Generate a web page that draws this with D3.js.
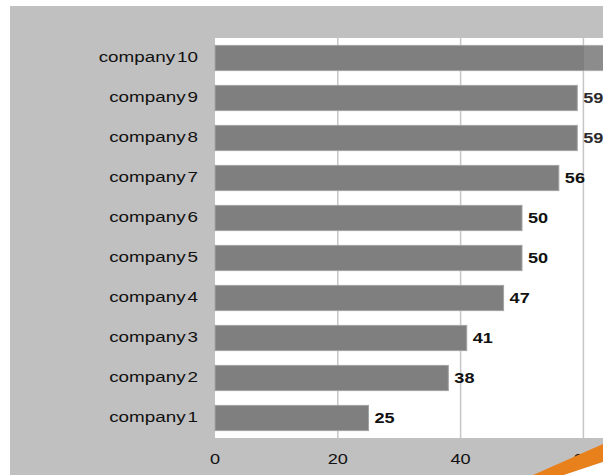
<!DOCTYPE html>
<html>
<head>
<meta charset="utf-8">
<script src="https://cdn.jsdelivr.net/npm/d3@7"></script>
<style>
html,body{margin:0;padding:0;background:#fff;overflow:hidden}
svg{display:block}
text{font-family:"Liberation Sans",Arial,sans-serif;fill:#111}
</style>
</head>
<body>
<svg id="chart" width="603" height="475"></svg>
<script>
const categories = ["company 1","company 2","company 3","company 4","company 5","company 6","company 7","company 8","company 9","company 10"];
const values = [25, 38, 41, 47, 50, 50, 56, 59, 59, 66];
const xTicks = [0, 20, 40, 60, 80];

const W = 603, H = 475;
const svg = d3.select("#chart");
const plot = {left: 215, top: 38, right: 585, bottom: 438};
const sx = 1.25;

// background panel
svg.append("rect").attr("x", 10).attr("y", 6).attr("width", W - 10).attr("height", H - 6).attr("fill", "#c0c0c0");
svg.append("rect").attr("x", plot.left).attr("y", plot.top).attr("width", W - plot.left).attr("height", plot.bottom - plot.top).attr("fill", "#ffffff");

const x = d3.scaleLinear().domain([0, 80]).range([plot.left, plot.left + 80 * 6.14]);
const y = d3.scaleBand().domain(categories.slice().reverse()).range([plot.top, plot.bottom]).paddingInner(0.37).paddingOuter(0.185);

// gridlines
svg.append("g").selectAll("line").data(xTicks.filter(d => d > 0)).join("line")
  .attr("x1", d => x(d)).attr("x2", d => x(d))
  .attr("y1", plot.top).attr("y2", plot.bottom)
  .attr("stroke", "#c6c6c6").attr("stroke-width", 1.5);

// bars
svg.append("g").selectAll("rect").data(categories).join("rect")
  .attr("x", x(0))
  .attr("y", d => y(d))
  .attr("width", (d, i) => x(values[i]) - x(0))
  .attr("height", y.bandwidth())
  .attr("fill", "#7f7f7f")
  .attr("stroke", "#a3a3a3").attr("stroke-width", 1);

// value labels
svg.append("g").selectAll("text").data(categories).join("text")
  .attr("transform", (d, i) => `translate(${x(values[i]) + 6},${y(d) + y.bandwidth() / 2}) scale(${sx},1)`)
  .attr("dy", "0.36em")
  .style("font-size", "14.5px").style("font-weight", "bold")
  .text((d, i) => values[i]);

// category labels
svg.append("g").selectAll("text").data(categories).join("text")
  .attr("transform", d => `translate(198,${y(d) + y.bandwidth() / 2 - 1.5}) scale(1.3,1)`)
  .attr("dy", "0.36em").attr("text-anchor", "end")
  .style("font-size", "14.5px").style("word-spacing", "-2.5px")
  .text(d => d);

// x tick labels
svg.append("g").selectAll("text").data(xTicks).join("text")
  .attr("transform", d => `translate(${x(d)},${459}) scale(${sx},1)`)
  .attr("dy", "0.36em").attr("text-anchor", "middle")
  .style("font-size", "14.5px")
  .text(d => d);

// light overlay at right edge of plot
svg.append("rect").attr("x", 584).attr("y", plot.top).attr("width", W - 584).attr("height", plot.bottom - plot.top)
  .attr("fill", "#ffffff").attr("opacity", 0.1);

// orange decorative stripe
svg.append("path").attr("d", `M533,${H} L${W},444 L${W},462 L564,${H} Z`).attr("fill", "#e8801c");
svg.append("path").attr("d", `M564,${H} L${W},462 L${W},${H} Z`).attr("fill", "#ffffff");
</script>
</body>
</html>
